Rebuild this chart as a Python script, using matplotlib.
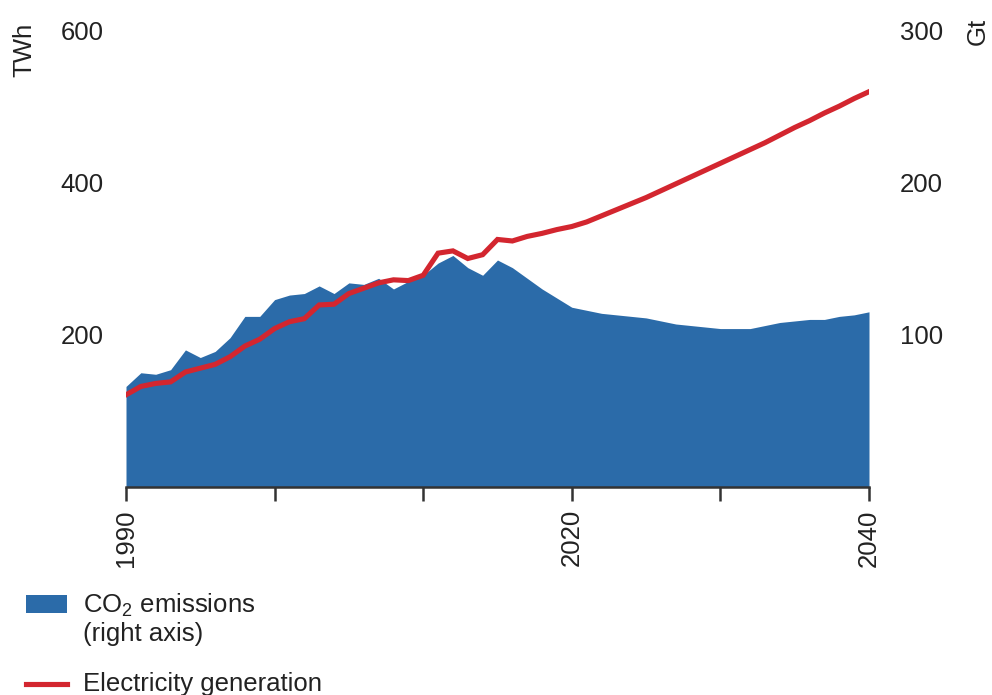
import numpy as np
import matplotlib
matplotlib.use('Agg')
from matplotlib import pyplot as plt
from matplotlib.patches import Rectangle
from matplotlib.lines import Line2D

plt.rcParams['font.family'] = ['Liberation Sans', 'DejaVu Sans']
plt.rcParams['mathtext.default'] = 'regular'

BLUE = '#2b6ba9'
RED = '#d3262f'
AXIS = '#333333'

years = list(range(1990, 2041))

# CO2 emissions, Gt (right axis)
co2 = [66, 75, 74, 77, 90, 85, 89, 98, 112, 112,
       123, 126, 127, 132, 127, 134, 133, 137, 130, 135,
       139, 147, 152, 144, 139, 149, 144, 137, 130, 124,
       118, 116, 114, 113, 112, 111, 109, 107, 106, 105,
       104, 104, 104, 106, 108, 109, 110, 110, 112, 113,
       115]

# electricity generation, TWh (left axis)
elec = [121, 132, 136, 138, 151, 156, 161, 171, 185, 194,
        208, 217, 221, 239, 240, 254, 261, 268, 272, 271,
        278, 307, 310, 300, 305, 325, 323, 329, 333, 338,
        342, 348, 356, 364, 372, 380, 389, 398, 407, 416,
        425, 434, 443, 452, 462, 472, 481, 491, 500, 510,
        519]

left_ticks = [200, 400, 600]
right_ticks = [100, 200, 300]
x_ticks = [1990, 2000, 2010, 2020, 2030, 2040]
x_labels = ['1990', '', '', '2020', '', '2040']

fig = plt.figure(figsize=(9.92, 6.95), dpi=100)
ax = fig.add_axes([126 / 992, 1 - 487 / 695, (869 - 126) / 992, (487 - 30) / 695])
ax2 = ax.twinx()

ax2.fill_between(years, 0, co2, color=BLUE, linewidth=0)
ax.plot(years, elec, color=RED, linewidth=3.7, solid_joinstyle='miter')

ax.set_zorder(ax2.get_zorder() + 1)
ax.patch.set_visible(False)

ax.set_xlim(1990, 2040)
ax.set_ylim(0, 600)
ax2.set_ylim(0, 300)

ax.set_yticks(left_ticks)
ax.set_yticklabels([str(v) for v in left_ticks])
ax2.set_yticks(right_ticks)
ax2.set_yticklabels([str(v) for v in right_ticks])
ax.tick_params(axis='y', length=0, pad=16, labelsize=18.5, colors='#222222')
ax2.tick_params(axis='y', length=0, pad=22, labelsize=18.5, colors='#222222')

ax.set_xticks(x_ticks)
ax.set_xticklabels(x_labels, rotation=90)
ax.tick_params(axis='x', direction='out', length=10, width=1.8, color=AXIS,
               pad=6, labelsize=18.5, labelcolor='#222222')

for a in (ax, ax2):
    for s in ('top', 'left', 'right', 'bottom'):
        a.spines[s].set_visible(False)
ax.spines['bottom'].set_visible(True)
ax.spines['bottom'].set_color(AXIS)
ax.spines['bottom'].set_linewidth(1.8)
ax2.tick_params(axis='x', length=0)

fig.text(24 / 992, 1 - 50 / 695, 'TWh', rotation=90, fontsize=18.5,
         ha='center', va='center', color='#222222')
fig.text(978 / 992, 1 - 31 / 695, 'Gt', rotation=90, fontsize=18.5,
         ha='center', va='center', color='#222222')

# legend
fig.patches.append(Rectangle((26 / 992, 1 - 613 / 695), 41 / 992, 18 / 695,
                             transform=fig.transFigure, color=BLUE, linewidth=0))
fig.text(83 / 992, 1 - 605 / 695, 'CO$_2$ emissions', fontsize=18.5,
         ha='left', va='center', color='#222222')
fig.text(83 / 992, 1 - 634 / 695, '(right axis)', fontsize=18.5,
         ha='left', va='center', color='#222222')
fig.lines.append(Line2D([26 / 992, 67 / 992], [1 - 684 / 695, 1 - 684 / 695],
                        transform=fig.transFigure, color=RED, linewidth=3.7))
fig.text(83 / 992, 1 - 684 / 695, 'Electricity generation', fontsize=18.5,
         ha='left', va='center', color='#222222')

fig.savefig('out.png', dpi=100)
